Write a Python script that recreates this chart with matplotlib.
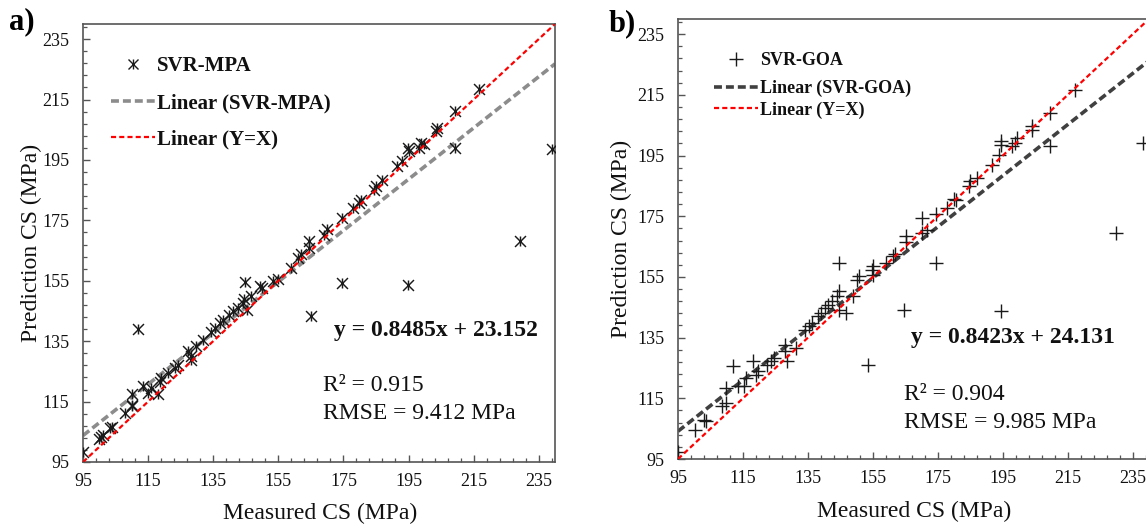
import matplotlib
matplotlib.use("Agg")
import matplotlib.pyplot as plt
from matplotlib.lines import Line2D
from matplotlib.legend_handler import HandlerTuple
import numpy as np

plt.rcParams['font.family'] = ['Liberation Serif', 'DejaVu Serif']

# ---------------- data ----------------
mpa_measured = [95.1, 100.0, 100.5, 101.2, 103.3, 103.8, 107.9, 109.9, 110.2, 109.9, 112.0, 113.5,
                115.0, 116.0, 118.1, 118.6, 119.1, 121.1, 123.2, 124.2, 127.3, 128.3, 128.3, 129.8,
                131.8, 134.4, 135.4, 137.0, 138.0, 140.0, 141.0, 142.6, 144.1, 144.6, 144.8, 145.4,
                146.7, 149.5, 150.0, 153.3, 154.8, 158.9, 161.0, 162.0, 164.5, 164.5, 165.0, 169.1,
                170.1, 174.7, 174.7, 177.8, 179.8, 180.3, 184.4, 184.9, 187.0, 191.6, 193.1, 194.7,
                194.7, 195.2, 198.2, 198.7, 199.7, 203.3, 203.8, 209.4, 209.4, 216.6, 229.3, 239.0]
mpa_predicted = [98.4, 102.5, 103.2, 104.0, 106.2, 106.7, 111.2, 113.4, 113.9, 117.6, 139.0, 120.0,
                 118.0, 119.4, 117.6, 121.6, 122.8, 124.4, 126.0, 127.2, 131.6, 130.0, 128.9, 133.3,
                 135.5, 138.2, 139.4, 141.0, 142.1, 143.8, 144.9, 146.0, 147.7, 148.8, 154.6, 145.4,
                 149.9, 153.2, 152.5, 154.8, 155.6, 159.3, 162.6, 163.7, 165.9, 168.1, 143.2, 170.3,
                 172.0, 154.3, 175.9, 179.2, 180.8, 181.9, 185.2, 186.3, 188.5, 193.0, 194.6, 153.7,
                 199.1, 198.0, 199.1, 200.7, 200.2, 204.6, 205.7, 211.2, 199.1, 218.4, 168.1, 198.5]

goa_measured = [95.0, 100.3, 103.1, 103.6, 108.6, 109.7, 109.7, 111.9, 113.6, 115.3, 116.0, 118.0,
                119.1, 119.7, 122.5, 123.6, 124.7, 128.0, 128.0, 128.6, 131.3, 134.1, 135.2, 136.3,
                138.0, 139.1, 140.2, 141.3, 142.4, 144.1, 144.6, 144.6, 144.6, 146.8, 149.0, 150.1,
                150.7, 153.5, 154.6, 155.1, 155.1, 159.0, 161.2, 164.5, 174.5, 194.4, 161.8, 165.1,
                165.1, 170.1, 170.1, 171.7, 174.5, 177.8, 180.0, 180.5, 184.5, 185.0, 187.2, 191.7,
                193.9, 194.4, 194.4, 197.8, 198.9, 199.5, 203.9, 203.9, 209.4, 209.4, 217.1, 229.9, 238.2]
goa_predicted = [97.4, 104.7, 108.0, 107.5, 112.4, 113.5, 118.4, 125.5, 119.0, 119.0, 121.7, 127.2,
                 122.8, 123.9, 126.1, 127.2, 128.3, 132.7, 130.5, 127.2, 131.6, 137.6, 138.7, 139.8,
                 142.0, 143.1, 144.8, 145.9, 147.0, 148.6, 150.3, 159.6, 144.2, 143.1, 148.6, 154.1,
                 155.2, 126.1, 157.4, 155.8, 158.5, 159.6, 161.8, 144.2, 159.6, 143.7, 162.4, 168.5,
                 166.4, 174.5, 169.5, 170.6, 175.6, 177.8, 180.7, 180.3, 184.9, 186.5, 187.6, 192.0,
                 195.3, 198.6, 199.7, 198.0, 199.1, 200.8, 204.6, 203.5, 209.0, 198.0, 216.7, 169.5, 199.1]

mpa_fit = (0.8485, 23.152)
goa_fit = (0.8423, 24.131)
axis_range = [95, 240]
major_ticks = [95, 115, 135, 155, 175, 195, 215, 235]
minor_step = 4

W, H = 1146, 525
fig = plt.figure(figsize=(W / 100, H / 100), dpi=100)

def px_axes(l, r, t, b):
    return fig.add_axes([l / W, (H - b) / H, (r - l) / W, (b - t) / H])

ax1 = px_axes(83, 555, 24, 462)
ax2 = px_axes(678, 1149, 19, 459)

def style(ax):
    ax.set_xlim(axis_range)
    ax.set_ylim(axis_range)
    ax.set_xticks(major_ticks)
    ax.set_yticks(major_ticks)
    ax.set_xticks(np.arange(95, 241, minor_step), minor=True)
    ax.set_yticks(np.arange(95, 241, minor_step), minor=True)
    ax.tick_params(which='both', direction='in', colors='#555555', labelcolor='#111111')
    ax.tick_params(which='major', length=4.8, width=1.0, labelsize=13)
    ax.tick_params(axis='y', which='major', pad=10)
    ax.tick_params(axis='x', which='major', pad=8)
    ax.tick_params(which='minor', length=3.2, width=0.9)
    for s in ax.spines.values():
        s.set_color('#555555')
        s.set_linewidth(1.2)
    ax.set_xlabel('Measured CS (MPa)', fontsize=17, color='#111111')
    ax.set_ylabel('Prediction CS (MPa)', fontsize=17, color='#111111')
    ax.xaxis.label.set_va('center')
    ax.yaxis.label.set_va('center')

style(ax1)
style(ax2)
ax1.xaxis.set_label_coords(0.502, -0.117)
ax1.yaxis.set_label_coords(-0.109, 0.5)
ax2.xaxis.set_label_coords(0.501, -0.12)
ax2.yaxis.set_label_coords(-0.12, 0.5)

xs = np.array(axis_range, dtype=float)

# ---------- panel a ----------
ax1.scatter(mpa_measured, mpa_predicted, marker='x', s=62, c='#1a1a1a', linewidths=1.05, zorder=3)
ax1.scatter(mpa_measured, mpa_predicted, marker='|', s=62, c='#1a1a1a', linewidths=1.05, zorder=3)
l_fit1, = ax1.plot(xs, mpa_fit[0] * xs + mpa_fit[1], color='#8c8c8c', lw=2.6,
                   dashes=(2.2, 1.1), zorder=2)
l_yx1, = ax1.plot(xs, xs, color='#ff0000', lw=1.6, dashes=(2.3, 1.4), zorder=4)

h_x = Line2D([], [], ls='none', marker='x', ms=7.5, mew=1.0, color='#1a1a1a')
h_v = Line2D([], [], ls='none', marker='|', ms=7.5, mew=1.0, color='#1a1a1a')
leg1 = ax1.legend([(h_x, h_v), l_fit1, l_yx1],
                  ['SVR-MPA', 'Linear (SVR-MPA)', 'Linear (Y=X)'],
                  handler_map={tuple: HandlerTuple(ndivide=1)},
                  loc='upper left', bbox_to_anchor=(0.059, 0.926), frameon=False,
                  prop={'weight': 'bold', 'size': 15}, handlelength=2.1, handletextpad=0.1,
                  labelspacing=0.8, borderpad=0, borderaxespad=0)
for t in leg1.get_texts():
    t.set_color('#111111')

ax1.text(172.2, 138.6, 'y = 0.8485x + 23.152', fontsize=17, fontweight='bold',
         ha='left', va='center', color='#111111')
ax1.text(168.7, 120.3, 'R\u00b2 = 0.915', fontsize=17, ha='left', va='center', color='#111111')
ax1.text(168.7, 111.2, 'RMSE = 9.412 MPa', fontsize=17, ha='left', va='center', color='#111111')

# ---------- panel b ----------
ax2.scatter(goa_measured, goa_predicted, marker='+', s=110, c='#1a1a1a', linewidths=1.0, zorder=3)
l_fit2, = ax2.plot(xs, goa_fit[0] * xs + goa_fit[1], color='#404040', lw=2.6,
                   dashes=(2.2, 1.1), zorder=2)
l_yx2, = ax2.plot(xs, xs, color='#ff0000', lw=1.6, dashes=(2.3, 1.4), zorder=4)

h_p = Line2D([], [], ls='none', marker='+', ms=10, mew=1.0, color='#1a1a1a')
leg2a = ax2.legend([h_p], ['SVR-GOA'], loc='upper left', bbox_to_anchor=(0.077, 0.925),
                   frameon=False, prop={'weight': 'bold', 'size': 13}, handlelength=2.4,
                   handletextpad=0.15, borderpad=0, borderaxespad=0)
ax2.add_artist(leg2a)
leg2b = ax2.legend([l_fit2, l_yx2], ['Linear (SVR-GOA)', 'Linear (Y=X)'],
                   loc='upper left', bbox_to_anchor=(0.077, 0.862), frameon=False,
                   prop={'weight': 'bold', 'size': 13}, handlelength=2.4, handletextpad=0.15,
                   labelspacing=0.25, borderpad=0, borderaxespad=0)
for lg in (leg2a, leg2b):
    for t in lg.get_texts():
        t.set_color('#111111')

ax2.text(166.8, 134.9, 'y = 0.8423x + 24.131', fontsize=17, fontweight='bold',
         ha='left', va='center', color='#111111')
ax2.text(164.5, 116.2, 'R\u00b2 = 0.904', fontsize=17, ha='left', va='center', color='#111111')
ax2.text(164.5, 107.1, 'RMSE = 9.985 MPa', fontsize=17, ha='left', va='center', color='#111111')

# panel letters
fig.text(9 / W, 1 - 22 / H, 'a)', fontsize=22, fontweight='bold', ha='left', va='center')
fig.text(609 / W, 1 - 24 / H, 'b)', fontsize=22, fontweight='bold', ha='left', va='center')

fig.savefig('out.png', dpi=100)
